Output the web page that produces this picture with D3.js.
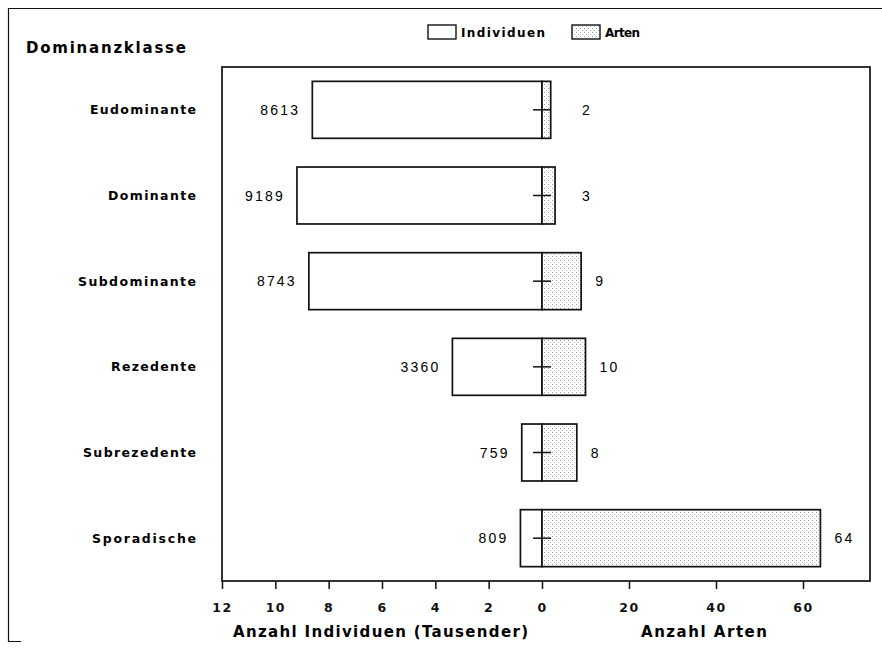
<!DOCTYPE html>
<html><head><meta charset="utf-8">
<script src="https://cdn.jsdelivr.net/npm/d3@7"></script>
<style>body{margin:0;background:#fff} svg{display:block}</style>
</head><body><svg id="c" width="882" height="649"></svg>
<script>
const categories = ["Eudominante","Dominante","Subdominante","Rezedente","Subrezedente","Sporadische"];
const individuen = [8613, 9189, 8743, 3360, 759, 809];
const arten = [2, 3, 9, 10, 8, 64];
const indTicks = [12000,10000,8000,6000,4000,2000,0];
const artTicks = [20,40,60];
const catWidths = [106, 88, 118, 85, 113, 104];

const svg = d3.select("#c");
const BFONT = "'DejaVu Sans', 'Liberation Sans', Arial, sans-serif";
const FONT = "'Liberation Sans', Arial, sans-serif";
const L = 222, R = 870, T = 67, B = 581, X0 = 542;

const xInd = d3.scaleLinear().domain([12000, 0]).range([L, X0]);
const xArt = d3.scaleLinear().domain([0, 60]).range([X0, 803]);
const y = d3.scaleBand().domain(categories).range([T, B]).paddingInner(0.335).paddingOuter(0.1675);

// stipple pattern
const defs = svg.append("defs");
const pat = defs.append("pattern").attr("id","stip").attr("patternUnits","userSpaceOnUse")
  .attr("width",4).attr("height",4);
pat.append("rect").attr("width",4).attr("height",4).attr("fill","#fff");
pat.append("rect").attr("x",0).attr("y",0).attr("width",1).attr("height",1).attr("fill","#a0a0a0");
pat.append("rect").attr("x",2).attr("y",2).attr("width",1).attr("height",1).attr("fill","#bcbcbc");

// outer frame (left, top, short bottom stub as in the scan)
svg.append("path").attr("d","M21,641.5 H8.5 V8.5 H882")
  .attr("fill","none").attr("stroke","#111").attr("stroke-width",1.2);

// plot frame
svg.append("rect").attr("x",L).attr("y",T).attr("width",R-L).attr("height",B-T)
  .attr("fill","none").attr("stroke","#111").attr("stroke-width",1.7);

// title
svg.append("text").attr("x",26).attr("y",53).attr("font-family",BFONT).attr("font-weight","bold")
  .attr("font-size",15).attr("textLength",160).attr("lengthAdjust","spacing")
  .text("Dominanzklasse");

// legend
const lg = svg.append("g").attr("font-family",BFONT).attr("font-weight","bold").attr("font-size",12);
lg.append("rect").attr("x",428).attr("y",25).attr("width",28).attr("height",14)
  .attr("fill","#fff").attr("stroke","#111").attr("stroke-width",1.4);
lg.append("text").attr("x",461).attr("y",37).attr("textLength",84).attr("lengthAdjust","spacing").text("Individuen");
lg.append("rect").attr("x",572).attr("y",25).attr("width",28).attr("height",14)
  .attr("fill","url(#stip)").attr("stroke","#111").attr("stroke-width",1.4);
lg.append("text").attr("x",605).attr("y",37).attr("textLength",35).attr("lengthAdjust","spacing").text("Arten");

// category labels
svg.append("g").selectAll("text").data(categories).join("text")
  .attr("x",196).attr("y",d=>y(d)+y.bandwidth()/2+4.5)
  .attr("text-anchor","end").attr("font-family",BFONT).attr("font-weight","bold").attr("font-size",12.5)
  .attr("textLength",(d,i)=>catWidths[i]).attr("lengthAdjust","spacing")
  .text(d=>d);

const rows = categories.map((c,i)=>({c, ind: individuen[i], art: arten[i]}));

// individuen bars
svg.append("g").selectAll("rect").data(rows).join("rect")
  .attr("x",d=>xInd(d.ind)).attr("y",d=>y(d.c))
  .attr("width",d=>xInd(0)-xInd(d.ind)).attr("height",y.bandwidth())
  .attr("fill","#fff").attr("stroke","#111").attr("stroke-width",1.7);

// arten bars
svg.append("g").selectAll("rect").data(rows).join("rect")
  .attr("x",xArt(0)).attr("y",d=>y(d.c))
  .attr("width",d=>xArt(d.art)-xArt(0)).attr("height",y.bandwidth())
  .attr("fill","url(#stip)").attr("stroke","#111").attr("stroke-width",1.7);

// crosshair marks at zero
svg.append("g").selectAll("line").data(rows).join("line")
  .attr("x1",X0-9).attr("x2",X0+9)
  .attr("y1",d=>y(d.c)+y.bandwidth()/2).attr("y2",d=>y(d.c)+y.bandwidth()/2)
  .attr("stroke","#111").attr("stroke-width",1.5);

// value labels
svg.append("g").selectAll("text").data(rows).join("text")
  .attr("x",d=>xInd(d.ind)-12).attr("y",d=>y(d.c)+y.bandwidth()/2+5)
  .attr("text-anchor","end").attr("font-family",FONT).attr("font-size",14).attr("letter-spacing",2.2)
  .text(d=>d.ind);
svg.append("g").selectAll("text").data(rows).join("text")
  .attr("x",d=>Math.max(xArt(d.art)+14, 582)).attr("y",d=>y(d.c)+y.bandwidth()/2+5)
  .attr("font-family",FONT).attr("font-size",14).attr("letter-spacing",2.2)
  .text(d=>d.art);

// axes
const axInd = d3.axisBottom(xInd).tickValues(indTicks).tickSize(8).tickPadding(14)
  .tickFormat(d=>d/1000);
const axArt = d3.axisBottom(xArt).tickValues(artTicks).tickSize(8).tickPadding(14);
[axInd, axArt].forEach(ax=>{
  const g = svg.append("g").attr("transform",`translate(0,${B})`).call(ax);
  g.select(".domain").remove();
  g.selectAll("line").attr("stroke","#111").attr("stroke-width",1.5);
  g.selectAll("text").attr("font-family",BFONT).attr("font-weight","bold").attr("font-size",12.5)
    .attr("letter-spacing",1.5).attr("fill","#111");
});

// axis titles
svg.append("text").attr("x",233).attr("y",637).attr("font-family",BFONT).attr("font-weight","bold")
  .attr("font-size",15).attr("textLength",295).attr("lengthAdjust","spacing")
  .text("Anzahl Individuen (Tausender)");
svg.append("text").attr("x",641).attr("y",637).attr("font-family",BFONT).attr("font-weight","bold")
  .attr("font-size",15).attr("textLength",126).attr("lengthAdjust","spacing")
  .text("Anzahl Arten");
</script></body></html>
